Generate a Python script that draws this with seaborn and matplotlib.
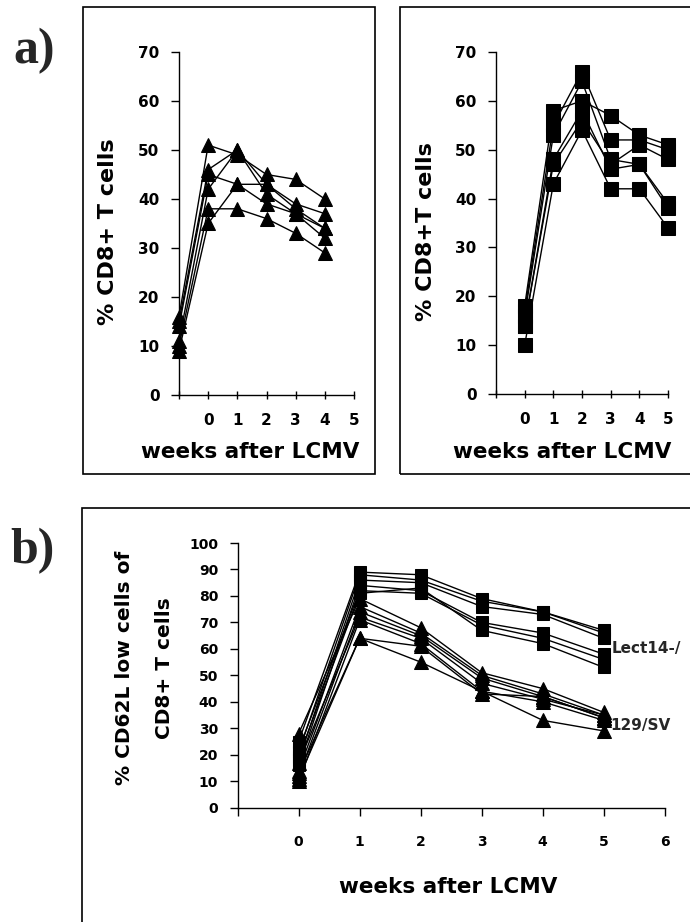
import numpy as np
import pandas as pd
import matplotlib
matplotlib.use('Agg')
import matplotlib.pyplot as plt
import seaborn as sns
from matplotlib.patches import Rectangle

# ---- data ----
# a) left: 129/SV mice, % CD8+ T cells (points sit one tick left of the labels)
weeks_a_left = [-1, 0, 1, 2, 3, 4]
cd8_129 = [
    [16, 51, 49, 45, 44, 40],
    [15, 46, 50, 43, 39, 37],
    [14, 45, 43, 43, 38, 34],
    [11, 42, 50, 41, 37, 32],
    [10, 38, 38, 36, 33, 29],
    [9, 35, 43, 39, 37, 34],
]

# a) right: Lect14-/- mice, % CD8+ T cells
weeks_a_right = [0, 1, 2, 3, 4, 5]
cd8_lect = [
    [18, 58, 60, 57, 53, 51],
    [17, 55, 66, 52, 52, 50],
    [16, 53, 64, 48, 47, 39],
    [14, 48, 58, 46, 47, 38],
    [14, 47, 56, 47, 51, 48],
    [10, 43, 54, 42, 42, 34],
]

# b) % CD62L low of CD8+ T cells
weeks_b = [0, 1, 2, 3, 4, 5]
cd62l_lect = [
    [25, 89, 88, 79, 74, 67],
    [21, 88, 86, 78, 74, 66],
    [18, 86, 85, 76, 73, 64],
    [16, 84, 82, 70, 66, 58],
    [22, 82, 81, 69, 64, 56],
    [19, 81, 83, 67, 62, 53],
]
cd62l_129 = [
    [28, 79, 68, 51, 45, 36],
    [14, 76, 66, 50, 43, 35],
    [12, 74, 65, 49, 42, 34],
    [17, 72, 64, 47, 41, 35],
    [10, 71, 62, 44, 40, 33],
    [13, 64, 61, 43, 42, 34],
    [11, 64, 55, 44, 33, 29],
]

xtick_a = ['', '0', '1', '2', '3', '4', '5']
xtick_b = ['', '0', '1', '2', '3', '4', '5', '6']


def to_long(weeks, rows):
    recs = []
    for i, row in enumerate(rows):
        for w, v in zip(weeks, row):
            recs.append({'week': w, 'value': v, 'mouse': i})
    return pd.DataFrame(recs)


sns.set_style('ticks')
plt.rcParams['font.family'] = ['DejaVu Sans']
plt.rcParams['font.weight'] = 'bold'

W, H = 690, 922
fig = plt.figure(figsize=(W / 100, H / 100), dpi=100)


def px_axes(left, top, right, bottom):
    return fig.add_axes([left / W, 1 - bottom / H, (right - left) / W, (bottom - top) / H])


def px_box(left, top, right, bottom):
    fig.add_artist(Rectangle((left / W, 1 - bottom / H), (right - left) / W, (bottom - top) / H,
                             transform=fig.transFigure, fill=False, edgecolor='black', lw=1.2))


def draw(ax, df, marker, ms):
    sns.lineplot(data=df, x='week', y='value', units='mouse', estimator=None, ax=ax,
                 color='black', lw=1.0, marker=marker, markersize=ms,
                 markeredgecolor='black', markerfacecolor='black', clip_on=False)


def style(ax, xlabels, ylim, ystep, fs, xpad, ypad, xdir):
    ax.set_xlim(-1, len(xlabels) - 2)
    ax.set_ylim(*ylim)
    ax.set_xticks(range(-1, len(xlabels) - 1))
    ax.set_xticklabels(xlabels)
    ax.set_yticks(np.arange(ylim[0], ylim[1] + 1, ystep))
    ax.set_xlabel('')
    ax.set_ylabel('')
    sns.despine(ax=ax)
    for s in ['left', 'bottom']:
        ax.spines[s].set_linewidth(1.0)
        ax.spines[s].set_color('black')
    ax.tick_params(axis='x', direction=xdir, length=6, width=1, pad=xpad, labelsize=fs, colors='black')
    ax.tick_params(axis='y', direction='out', length=6, width=1, pad=ypad, labelsize=fs, colors='black')
    for t in ax.get_xticklabels() + ax.get_yticklabels():
        t.set_fontweight('bold')
    ax.patch.set_alpha(0)


# ---- panel a, left ----
ax1 = px_axes(179, 52, 354, 395)
draw(ax1, to_long(weeks_a_left, cd8_129), '^', 10)
style(ax1, xtick_a, (0, 70), 10, 11, 10, 8, 'inout')

# ---- panel a, right ----
ax2 = px_axes(496, 52, 668, 394)
draw(ax2, to_long(weeks_a_right, cd8_lect), 's', 10)
style(ax2, xtick_a, (0, 70), 10, 11, 10, 8, 'inout')

# ---- panel b ----
ax3 = px_axes(237.6, 543, 664.8, 807.7)
draw(ax3, to_long(weeks_b, cd62l_lect), 's', 9)
draw(ax3, to_long(weeks_b, cd62l_129), '^', 9.5)
style(ax3, xtick_b, (0, 100), 10, 10, 14, 8, 'out')
ax3.annotate('Lect14-/', xy=(5, 60), xytext=(6, 0), textcoords='offset points',
             fontsize=11, fontweight='bold', va='center', ha='left', annotation_clip=False)
ax3.annotate('129/SV', xy=(5, 31), xytext=(5, 0), textcoords='offset points',
             fontsize=11, fontweight='bold', va='center', ha='left', annotation_clip=False)

# ---- frames ----
px_box(82.7, 7, 375, 474)
px_box(400, 7, 720, 474)
px_box(82, 508, 720, 960)

# ---- axis titles ----
lab = dict(fontweight='bold', color='black')
fig.text(108 / W, 1 - 232 / H, '% CD8+ T cells', rotation=90, ha='center', va='center', fontsize=16, **lab)
fig.text(426 / W, 1 - 232 / H, '% CD8+T cells', rotation=90, ha='center', va='center', fontsize=16, **lab)
fig.text(250 / W, 1 - 452 / H, 'weeks after LCMV', ha='center', va='center', fontsize=15.5, **lab)
fig.text(562 / W, 1 - 452 / H, 'weeks after LCMV', ha='center', va='center', fontsize=15.5, **lab)
fig.text(448 / W, 1 - 887 / H, 'weeks after LCMV', ha='center', va='center', fontsize=15.5, **lab)
fig.text(125 / W, 1 - 668 / H, '% CD62L low cells of', rotation=90, ha='center', va='center', fontsize=14.5, **lab)
fig.text(164 / W, 1 - 668 / H, 'CD8+ T cells', rotation=90, ha='center', va='center', fontsize=14.5, **lab)

# ---- panel letters ----
fig.text(13 / W, 1 - 63 / H, 'a)', family='Liberation Serif', fontsize=36, fontweight='bold', ha='left', va='baseline')
fig.text(10 / W, 1 - 563 / H, 'b)', family='Liberation Serif', fontsize=36, fontweight='bold', ha='left', va='baseline')

fig.savefig('out.png', dpi=100, facecolor='white')
